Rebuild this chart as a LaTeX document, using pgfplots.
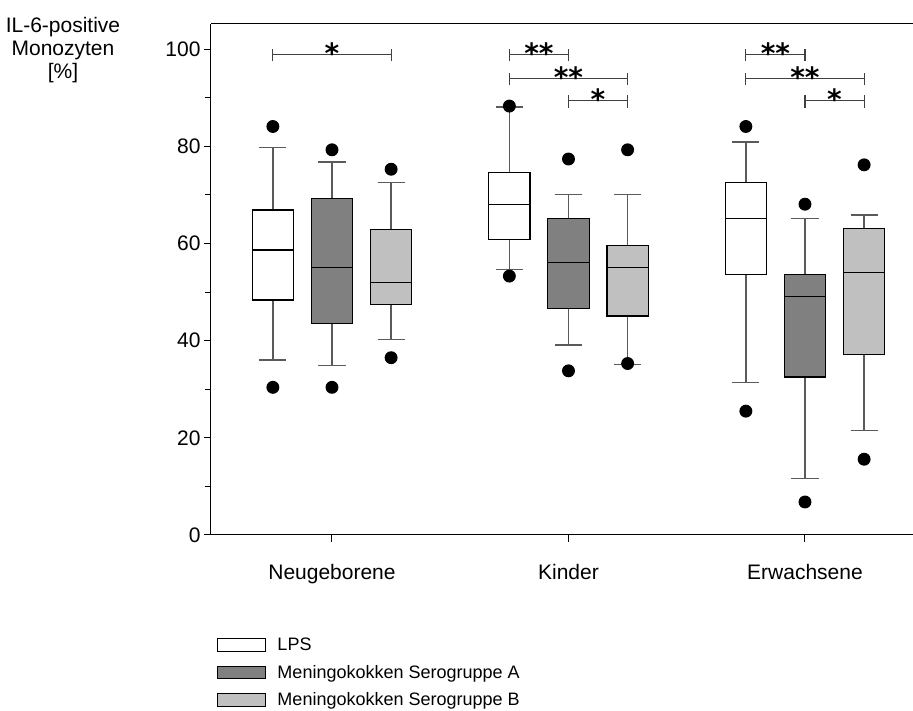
\documentclass[border=0pt]{standalone}
\usepackage{fontspec}
\setmainfont{Liberation Sans}
\newfontfamily\starfont{DejaVu Sans}
\usepackage{pgfplots}
\pgfplotsset{compat=1.18}
\usepgfplotslibrary{statistics}
\usetikzlibrary{calc}
\definecolor{grpA}{HTML}{808080}
\definecolor{grpB}{HTML}{C0C0C0}
\definecolor{whisk}{HTML}{5A5A5A}
\definecolor{sigc}{HTML}{404040}
\pgfplotsset{
  bxs/.style={forget plot, draw=black, line width=1.3pt, mark=*, mark size=5.8pt,
    mark options={solid, fill=black, draw=black}},
}
\newcommand{\sigbar}[5]{% x1, x2, y, ylow, yhigh
  \draw[sigc, line width=1.2pt] (axis cs:#1,#3) -- (axis cs:#2,#3);
  \draw[sigc, line width=1.2pt] (axis cs:#1,#4) -- (axis cs:#1,#5);
  \draw[sigc, line width=1.2pt] (axis cs:#2,#4) -- (axis cs:#2,#5);
}
\newcommand{\sigstar}[3]{% xcenter, y(baseline), text
  \node[font=\starfont\bfseries\fontsize{28}{28}\selectfont, anchor=base, inner sep=0pt] at (axis cs:#1,#2) {#3};
}
\begin{document}
\begin{tikzpicture}
\begin{axis}[
  name=ax,
  scale only axis, width=702pt, height=511pt,
  xmin=0.4884, xmax=3.4567, ymin=0, ymax=105.2,
  axis lines=left, axis line style={-, line width=1pt, black},
  xtick={1,2,3}, xticklabels={Neugeborene,Kinder,Erwachsene},
  ytick={0,20,40,60,80,100}, minor ytick={10,30,50,70,90},
  tick align=outside, major tick length=7pt, minor tick length=6pt,
  tick style={black, line width=1pt},
  tick label style={font=\fontsize{21}{25}\selectfont},
  /pgf/number format/assume math mode=true,
  xticklabel style={yshift=-19pt},
  ylabel={IL-6-positive\\Monozyten\\{[\%]}},
  ylabel style={rotate=-90, align=center, inner sep=0pt,
    font=\fontsize{21}{23}\selectfont, at={(axis description cs:0,1)}, anchor=north,
    xshift=-148pt, yshift=7pt},
  clip=false,
  boxplot/draw direction=y,
  boxplot/box extend=0.175, boxplot/whisker extend=0.115,
  boxplot/every whisker/.style={draw=whisk},
  boxplot/every median/.style={draw=black},
  legend style={at={(axis description cs:0,0)}, anchor=north west, xshift=5.7pt, yshift=-101pt,
    draw=none, fill=none, inner sep=0pt, outer sep=0pt,
    font=\fontsize{18}{18}\selectfont, row sep=9pt, column sep=10pt},
  legend cell align=left,
  legend image code/.code={\draw[#1, line width=0.8pt] (0pt,-6.3pt) rectangle (48pt,6.3pt);},
]
% Neugeborene
\addplot[bxs, fill=white, boxplot prepared={draw position=0.75, lower whisker=36.0, lower quartile=48.4, median=58.7, upper quartile=66.9, upper whisker=79.8}] coordinates {(0,84.1) (0,30.4)};
\addplot[bxs, fill=grpA, boxplot prepared={draw position=1.00, lower whisker=34.9, lower quartile=43.6, median=55.1, upper quartile=69.3, upper whisker=76.8}] coordinates {(0,79.3) (0,30.4)};
\addplot[bxs, fill=grpB, boxplot prepared={draw position=1.25, lower whisker=40.3, lower quartile=47.4, median=52.0, upper quartile=62.9, upper whisker=72.6}] coordinates {(0,75.3) (0,36.5)};
% Kinder
\addplot[bxs, fill=white, boxplot prepared={draw position=1.75, lower whisker=54.6, lower quartile=60.9, median=68.1, upper quartile=74.6, upper whisker=88.1}] coordinates {(0,88.3) (0,53.3)};
\addplot[bxs, fill=grpA, boxplot prepared={draw position=2.00, lower whisker=39.1, lower quartile=46.7, median=56.1, upper quartile=65.1, upper whisker=70.1}] coordinates {(0,77.4) (0,33.8)};
\addplot[bxs, fill=grpB, boxplot prepared={draw position=2.25, lower whisker=35.1, lower quartile=45.1, median=55.1, upper quartile=59.6, upper whisker=70.1}] coordinates {(0,79.3) (0,35.3)};
% Erwachsene
\addplot[bxs, fill=white, boxplot prepared={draw position=2.75, lower whisker=31.4, lower quartile=53.6, median=65.1, upper quartile=72.6, upper whisker=80.9}] coordinates {(0,84.1) (0,25.5)};
\addplot[bxs, fill=grpA, boxplot prepared={draw position=3.00, lower whisker=11.6, lower quartile=32.5, median=49.1, upper quartile=53.6, upper whisker=65.1}] coordinates {(0,68.1) (0,6.8)};
\addplot[bxs, fill=grpB, boxplot prepared={draw position=3.25, lower whisker=21.5, lower quartile=37.1, median=54.1, upper quartile=63.1, upper whisker=65.9}] coordinates {(0,76.2) (0,15.6)};

\addlegendimage{draw=black, fill=white}
\addlegendentry{LPS}
\addlegendimage{draw=black, fill=grpA}
\addlegendentry{Meningokokken Serogruppe A}
\addlegendimage{draw=black, fill=grpB}
\addlegendentry{Meningokokken Serogruppe B}

% significance bars
\sigbar{0.75}{1.25}{98.9}{97.5}{100.0}
\sigstar{1.0}{97.0}{*}
\sigbar{1.75}{2.00}{98.9}{97.5}{100.0}
\sigstar{1.875}{97.0}{**}
\sigbar{1.75}{2.25}{94.0}{92.6}{95.1}
\sigstar{2.0}{92.1}{**}
\sigbar{2.00}{2.25}{89.4}{88.0}{90.5}
\sigstar{2.125}{87.5}{*}
\sigbar{2.75}{3.00}{98.9}{97.5}{100.0}
\sigstar{2.875}{97.0}{**}
\sigbar{2.75}{3.25}{94.0}{92.6}{95.1}
\sigstar{3.0}{92.1}{**}
\sigbar{3.00}{3.25}{89.4}{88.0}{90.5}
\sigstar{3.125}{87.5}{*}

\draw[black, line width=1pt] (axis description cs:0,1) -- (axis description cs:1,1);
\end{axis}
\pgfresetboundingbox
\useasboundingbox ($(ax.south west)+(-211pt,-176pt)$) rectangle ($(ax.north east)+(0pt,24pt)$);
\end{tikzpicture}
\end{document}
